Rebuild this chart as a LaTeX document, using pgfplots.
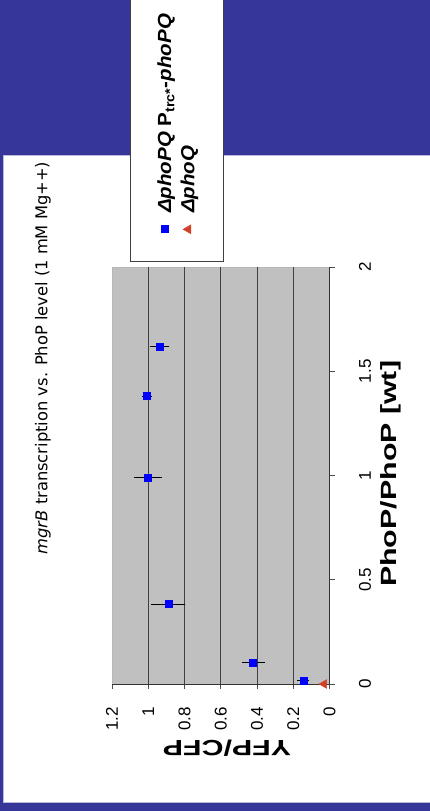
\documentclass[border=0pt]{standalone}
\usepackage{fontspec}
\setmainfont{Liberation Sans}
\newfontfamily\titlefont{DejaVu Sans}
\newfontfamily\labelfont[FakeStretch=1.38]{Liberation Sans}
\newfontfamily\legfont[FakeStretch=1.08]{Liberation Sans}
\usepackage{pgfplots}
\pgfplotsset{compat=1.18}
\definecolor{slideblue}{RGB}{54,54,153}
\definecolor{plotgray}{RGB}{192,192,192}
\definecolor{mkblue}{RGB}{0,0,255}
\definecolor{mkred}{RGB}{210,64,40}
\pgfplotstableread{
x      y      ey
1.617  0.936  0.031
1.381  1.009  0.006
0.989  1.002  0.055
0.383  0.889  0.072
0.104  0.421  0.042
0.016  0.145  0.010
}\phopq
\pgfplotstableread{
x      y      ey
0.000  0.030  0.005
}\phoq
\begin{document}
\rotatebox{90}{%
\begin{tikzpicture}[x=1pt,y=1pt]
\useasboundingbox (0,0) rectangle (811,430);
\clip (0,0) rectangle (811,430);
\fill[slideblue] (0,0) rectangle (811,430);
\fill[white] (9,0) rectangle (656,427);
\draw[white!65!slideblue, line width=0.8pt] (656,0) -- (656,427) -- (9,427) -- (9,0);
\node[font=\titlefont\fontsize{16.3}{18}\selectfont] at (453,387)
  {\textit{mgrB} transcription vs. PhoP level (1 mM Mg++)};
\begin{axis}[
  at={(127pt,100.5pt)}, anchor=south west, scale only axis,
  width=417pt, height=217.5pt,
  xmin=0, xmax=2, ymin=0, ymax=1.2,
  axis lines*=left,
  axis line style={black!80, line width=0.8pt},
  axis background/.style={fill=plotgray, draw=black!30, densely dotted, line width=0.6pt},
  xtick={0,0.5,1,1.5,2},
  ytick={0,0.2,0.4,0.6,0.8,1,1.2},
  extra y ticks={0.2,0.4,0.6,0.8,1},
  extra y tick labels={},
  extra y tick style={grid=major, major tick length=0pt},
  grid style={black!75, line width=0.7pt},
  tick align=outside, major tick length=5pt,
  tick style={black!70, line width=0.7pt},
  /pgf/number format/assume math mode=true,
  ticklabel style={font=\fontsize{17}{17}\selectfont},
  xticklabel style={anchor=center, inner sep=0pt, yshift=-30.5pt},
  yticklabel style={anchor=east, inner sep=0pt, xshift=-18pt},
  xlabel={PhoP/PhoP [wt]},
  ylabel={YFP/CFP},
  xlabel style={at={(axis description cs:0.504,-0.283)}, anchor=center,
    font=\labelfont\bfseries\fontsize{22}{24}\selectfont},
  ylabel style={at={(axis description cs:-0.1535,0.471)}, anchor=center,
    font=\labelfont\bfseries\fontsize{22}{24}\selectfont},
  legend style={at={(axis description cs:1.012,0.917)}, anchor=north west,
    draw=black!75, fill=white, line width=0.7pt,
    inner xsep=28pt, inner ysep=25pt, row sep=4pt, column sep=10pt,
    font=\legfont\bfseries\fontsize{19}{21}\selectfont,
    cells={anchor=west}},
  legend image code/.code={\draw[#1] plot coordinates {(0pt,0pt)};},
]
\addplot[only marks, mark=square*, mark size=3.5pt, color=mkblue,
  error bars/.cd, y dir=both, y explicit,
  error bar style={black, line width=0.8pt},
  error mark options={black, mark size=4pt, line width=0.8pt}]
  table[x=x, y=y, y error=ey] {\phopq};
\addlegendentry{\makebox[235pt][l]{\textit{ΔphoPQ} P\textsubscript{trc*}-\textit{phoPQ}}}
\addplot[only marks, mark=triangle*, mark size=5pt, color=mkred,
  error bars/.cd, y dir=both, y explicit,
  error bar style={black, line width=0.8pt},
  error mark options={black, mark size=4pt, line width=0.8pt}]
  table[x=x, y=y, y error=ey] {\phoq};
\addlegendentry{\makebox[235pt][l]{\textit{ΔphoQ}}}
\end{axis}
\end{tikzpicture}%
}
\end{document}
